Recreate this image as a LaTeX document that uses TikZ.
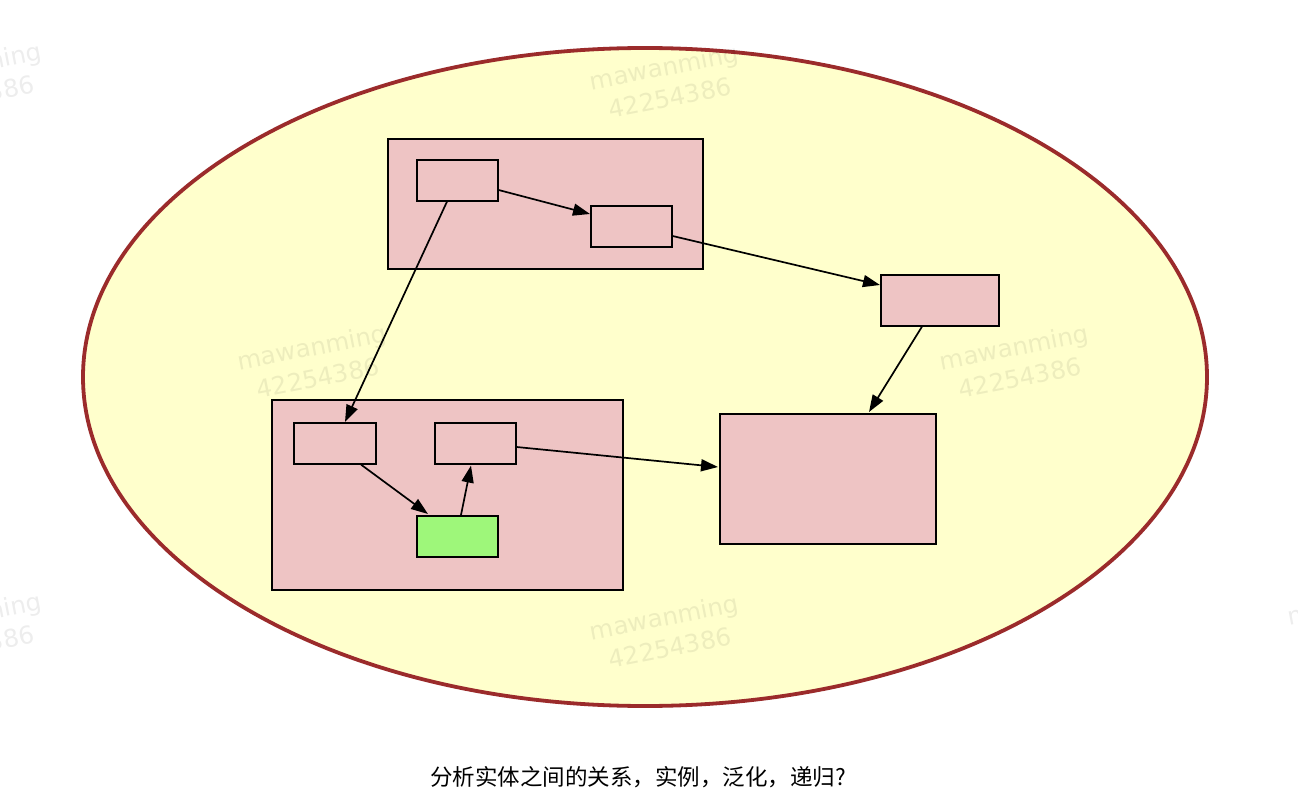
\documentclass[tikz,border=0pt]{standalone}
\usepackage{fontspec}
\newfontfamily\cjk{Noto Sans CJK SC}
\newfontfamily\wmfont{DejaVu Sans}
\usetikzlibrary{arrows.meta,calc,shapes.geometric}
\definecolor{bgyellow}{HTML}{FFFFCC}
\definecolor{rim}{HTML}{9B2B2B}
\definecolor{boxpink}{HTML}{EEC4C4}
\definecolor{boxgreen}{HTML}{9EF77A}
\tikzset{
  pbox/.style={draw=black, line width=1.6pt, fill=boxpink, inner sep=0pt, anchor=north west},
  gbox/.style={pbox, fill=boxgreen},
  link/.style={line width=1.7pt, -{Triangle[length=17pt,width=12pt]}},
  wmark/.style={text=black, text opacity=0.07, font=\wmfont\fontsize{24.5}{31}\selectfont, rotate=11, align=center, inner sep=0pt}
}
\begin{document}
\begin{tikzpicture}[x=1pt,y=-1pt]
\useasboundingbox[fill=white] (0,0) rectangle (1298,802);
% edge watermarks
\node[wmark] (w0) at (-30,80) {mawanming\\42254386};
\node[wmark] (w0b) at (-30,630) {mawanming\\42254386};
\node[wmark] (w0c) at (1365,617) {mawanming\\42254386};
% ellipse
\node[draw=rim, fill=bgyellow, line width=3.8pt, ellipse, minimum width=1124pt, minimum height=658pt, inner sep=0pt] (ell) at (645,377) {};
% watermarks inside
\node[wmark] (w1) at (667,82) {mawanming\\42254386};
\node[wmark] (w2) at (315,362) {mawanming\\42254386};
\node[wmark] (w3) at (1017,362) {mawanming\\42254386};
\node[wmark] (w4) at (667,632) {mawanming\\42254386};
% clusters
\node[pbox, minimum width=315pt, minimum height=130pt] (c1) at (387,138) {};
\node[pbox, minimum width=351pt, minimum height=190pt] (c2) at (271,399) {};
% nodes
\node[pbox, minimum width=81pt, minimum height=41pt] (A) at (416,159) {};
\node[pbox, minimum width=81pt, minimum height=41pt] (B) at (590,205) {};
\node[pbox, minimum width=118pt, minimum height=51pt] (C) at (880,274) {};
\node[pbox, minimum width=82pt, minimum height=41pt] (D) at (293,422) {};
\node[pbox, minimum width=81pt, minimum height=41pt] (E) at (434,422) {};
\node[gbox, minimum width=81pt, minimum height=41pt] (G) at (416,515) {};
\node[pbox, minimum width=216pt, minimum height=130pt] (F) at (719,413) {};
% edges
\draw[link] ($(A.north east)+(0,31)$) -- ($(B.north west)+(0,9)$);
\draw[link] ($(B.north east)+(0,31)$) -- ($(C.north west)+(0,11)$);
\draw[link] ($(A.south west)+(31,0)$) -- ($(D.north west)+(52,0)$);
\draw[link] ($(C.south west)+(42,0)$) -- ($(F.north west)+(150,-1)$);
\draw[link] ($(D.south west)+(68,0)$) -- ($(G.north west)+(12,-1)$);
\draw[link] ($(G.north west)+(45,0)$) -- ($(E.south west)+(37,1)$);
\draw[link] ($(E.north east)+(0,25)$) -- ($(F.north west)+(-1,54)$);
% caption
\node[font=\cjk\fontsize{22.5}{26}\selectfont, inner sep=0pt] (cap) at (638,777) {分析实体之间的关系，实例，泛化，递归?};
\end{tikzpicture}
\end{document}
